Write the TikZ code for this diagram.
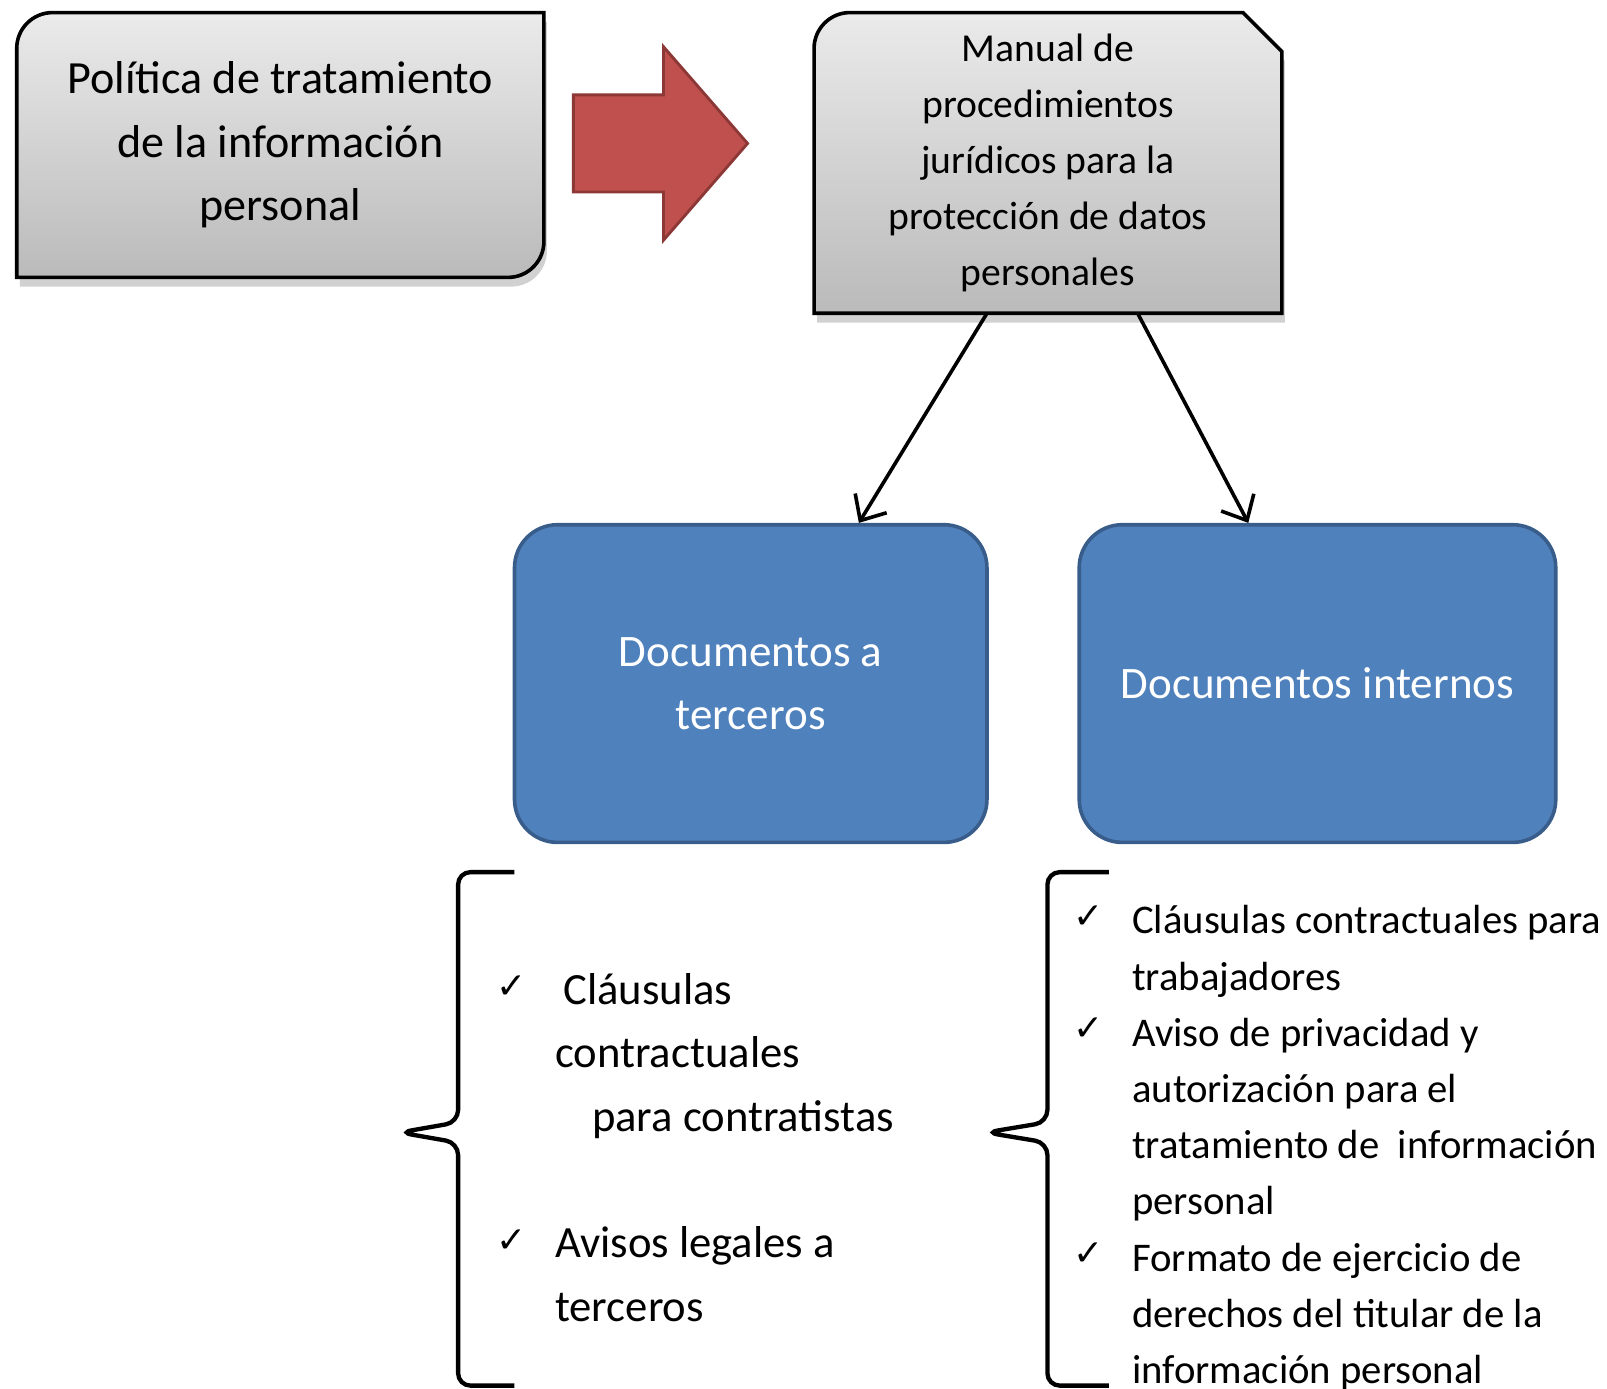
\documentclass[tikz,border=0pt]{standalone}
\usepackage{fontspec}
\setmainfont{Carlito}
\newfontfamily\simb{DejaVu Sans}
\usetikzlibrary{shapes.arrows,shadows,backgrounds,arrows.meta}
\definecolor{azul}{HTML}{4F81BD}
\definecolor{azulborde}{HTML}{385D8A}
\definecolor{rojo}{HTML}{C0504D}
\definecolor{rojoborde}{HTML}{8C3836}
\newcommand{\chk}{\llap{\raisebox{1.5pt}{\simb\fontsize{10}{10}\selectfont ✓}\hspace{8pt}}}
\begin{document}
\begin{tikzpicture}[
	gris/.style={top color=black!8, bottom color=black!27, draw=black, line width=1pt,
		drop shadow={shadow xshift=0.3mm, shadow yshift=-0.9mm, fill=black!60, opacity=0.3}},
	azulcaja/.style={rectangle, rounded corners=4.2mm, fill=azul, draw=azulborde, line width=1pt,
		text=white, align=center, minimum height=3.1cm, font=\fontsize{12.5}{17.6}\selectfont},
	flecha/.style={-{Straight Barb[length=2mm,width=3.6mm]}, line width=1pt},
	llave/.style={line width=1.2pt, rounded corners=1.2mm},
	lista/.style={align=left, anchor=north west, inner sep=0pt}]
	\useasboundingbox (0,0) rectangle (15.68,13.55);
	\node (Pol) [minimum width=5.13cm, minimum height=2.57cm, align=center, font=\fontsize{12.8}{17.6}\selectfont] at (2.735,12.135) {Política de tratamiento\\de la información\\personal};
	\node (Man) [minimum width=4.55cm, minimum height=2.92cm, inner sep=1pt, align=center, font=\fontsize{11}{15.6}\selectfont] at (10.225,11.96) {Manual de\\procedimientos\\jurídicos para la\\protección de datos\\personales};
	\begin{scope}[on background layer]
		\path[gris] ([yshift=-3.5mm]Pol.north west) arc[start angle=180, end angle=90, radius=3.5mm] -- (Pol.north east) -- ([yshift=3.5mm]Pol.south east) arc[start angle=0, end angle=-90, radius=3.5mm] -- (Pol.south west) -- cycle;
		\path[gris] ([yshift=-3.5mm]Man.north west) arc[start angle=180, end angle=90, radius=3.5mm] -- ([xshift=-3.8mm]Man.north east) -- ([yshift=-3.8mm]Man.north east) -- (Man.south east) -- (Man.south west) -- cycle;
	\end{scope}
	\node (Flecha) [single arrow, fill=rojo, draw=rojoborde, line width=0.8pt, minimum height=1.7cm, inner xsep=0pt, inner ysep=4.6mm, single arrow head extend=4.7mm, single arrow tip angle=98, anchor=tail] at (5.58,12.15) {};
	\node (DocT) [azulcaja, minimum width=4.61cm] at (7.325,6.88) {Documentos a\\terceros};
	\node (DocI) [azulcaja, minimum width=4.65cm] at (12.855,6.88) {Documentos internos};
	\draw[flecha] ([xshift=-5.95mm]Man.south) to ([xshift=10.55mm]DocT.north);
	\draw[flecha] ([xshift=8.75mm]Man.south) to ([xshift=-6.75mm]DocI.north);
	% llaves
	\draw[llave] (5.02,5.04) -- (4.47,5.04) -- (4.47,2.60) -- (3.90,2.50) -- (4.47,2.40) -- (4.47,0.03) -- (5.02,0.03);
	\draw[llave] (10.82,5.04) -- (10.22,5.04) -- (10.22,2.60) -- (9.62,2.50) -- (10.22,2.40) -- (10.22,0.03) -- (10.82,0.03);
	\node (ListT) [lista, font=\fontsize{12.4}{17.6}\selectfont] at (5.41,4.06) {\chk\hspace{0.8mm}Cláusulas\\contractuales\\\hspace{3.6mm}para contratistas\\[17.6pt]\chk Avisos legales a\\terceros};
	\node (ListI) [lista, font=\fontsize{11.3}{15.6}\selectfont] at (11.04,4.72) {\chk Cláusulas contractuales para\\trabajadores\\\chk Aviso de privacidad y\\autorización para el\\tratamiento de\ \ información\\personal\\\chk Formato de ejercicio de\\derechos del titular de la\\información personal};
\end{tikzpicture}
\end{document}
